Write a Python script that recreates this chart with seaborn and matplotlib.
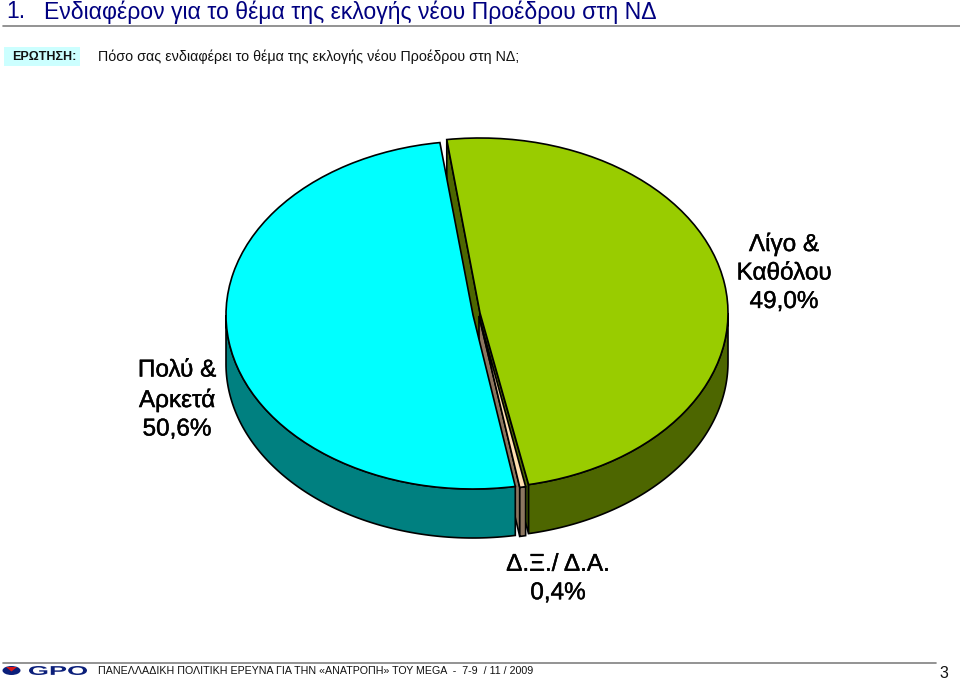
import numpy as np
import matplotlib
matplotlib.use('Agg')
import matplotlib.pyplot as plt
import matplotlib.patheffects as pe
from matplotlib.patches import Ellipse, PathPatch
from matplotlib.textpath import TextPath
from matplotlib.font_manager import FontProperties
from matplotlib.transforms import Affine2D
import seaborn as sns

# survey results, percent
slice_names = ['Λίγο &\nΚαθόλου', 'Πολύ &\nΑρκετά', 'Δ.Ξ./ Δ.Α.']
slice_values = [49.0, 50.6, 0.4]
slice_colors = ['#99CC00', '#00FFFF', '#FFDFB0']
side_colors = ['#4D6600', '#008080', '#8C7660']

title_text = 'Ενδιαφέρον για το θέμα της εκλογής νέου Προέδρου στη ΝΔ'
question_text = 'Πόσο σας ενδιαφέρει το θέμα της εκλογής νέου Προέδρου στη ΝΔ;'
footer_text = 'ΠΑΝΕΛΛΑΔΙΚΗ ΠΟΛΙΤΙΚΗ ΕΡΕΥΝΑ ΓΙΑ ΤΗΝ «ΑΝΑΤΡΟΠΗ» ΤΟΥ MEGA  -  7-9  / 11 / 2009'

sns.set_theme(style='white')
plt.rcParams['font.family'] = ['Liberation Sans', 'DejaVu Sans']

NAVY = '#000080'
DEPTH = 49
START_ANGLE = -78.7
# slice centre and radii in pixels, the exploded 3D look
geometry = [(480, 313, 248, 175), (473, 315, 247, 174), (479, 316, 238, 174)]


def rim(theta, cx, cy, rx, ry):
    t = np.radians(theta)
    return cx + rx * np.cos(t), cy - ry * np.sin(t)


def draw_side(ax, t1, t2, geo, color, z):
    # outer wall of a slice between two angles
    th = np.linspace(t1, t2, 120)
    x, y = rim(th, *geo)
    xs = np.concatenate([x, x[::-1]])
    ys = np.concatenate([y, y[::-1] + DEPTH])
    ax.fill(xs, ys, facecolor=color, edgecolor='black', lw=1.2, zorder=z)


def draw_cut(ax, theta, geo, color, z):
    # flat cut face from the apex to the rim
    cx, cy = geo[:2]
    x, y = rim(theta, *geo)
    ax.fill([cx, x, x, cx], [cy, y, y + DEPTH, cy + DEPTH], facecolor=color,
            edgecolor='black', lw=1.2, zorder=z)


fig = plt.figure(figsize=(9.6, 6.79), dpi=100)
ax = fig.add_axes([0, 0, 1, 1])

wedges, _ = ax.pie(slice_values, startangle=START_ANGLE, colors=slice_colors, radius=1,
                   wedgeprops={'edgecolor': 'black', 'linewidth': 1.2})
ax.set_aspect('auto')
ax.set_xlim(0, 960)
ax.set_ylim(679, 0)
ax.axis('off')

for w, geo in zip(wedges, geometry):
    cx, cy, rx, ry = geo
    w.set_transform(Affine2D().scale(rx, -ry).translate(cx, cy) + ax.transData)

green, blue, dk = wedges

# green slice at the back, then the small one, blue on top
draw_cut(ax, green.theta2, geometry[0], side_colors[0], 1)
draw_cut(ax, green.theta1, geometry[0], side_colors[0], 1)
draw_side(ax, green.theta1, 0, geometry[0], side_colors[0], 1.5)
green.set_zorder(2)

draw_cut(ax, dk.theta1, geometry[2], side_colors[2], 3)
draw_side(ax, dk.theta1, dk.theta2, geometry[2], side_colors[2], 3.5)
dk.set_zorder(4)

draw_side(ax, 180, blue.theta2, geometry[1], side_colors[1], 5)
blue.set_zorder(6)

# value labels
fmt = lambda v: f'{v:.1f}%'.replace('.', ',')
heavy = [pe.withStroke(linewidth=0.3, foreground='black')]
label_spots = [(784, 273), (177, 400), (558, 579)]
for name, val, (lx, ly) in zip(slice_names, slice_values, label_spots):
    ax.text(lx, ly, f'{name}\n{fmt(val)}', ha='center', va='center', fontsize=17.5,
            linespacing=1.38, color='black', zorder=10, path_effects=heavy)

# header
ax.text(6, 12, '1.', fontsize=16.6, color=NAVY, va='center', ha='left')
ax.text(44, 12, title_text, fontsize=16.6, color=NAVY, va='center', ha='left')
ax.plot([3, 960], [26, 26], color='#808080', lw=1.2)
ax.fill([4, 80, 80, 4], [47, 47, 66, 66], color='#CCFFFF', lw=0)
ax.text(44, 57, 'ΕΡΩΤΗΣΗ:', fontsize=9, fontweight='bold', color='#111111', va='center', ha='center')
ax.text(98, 57, question_text, fontsize=10.3, color='#111111', va='center', ha='left')

# footer
ax.plot([3, 936], [663, 663], color='#808080', lw=1.2)
ax.text(98, 671, footer_text, fontsize=7.7, color='#111111', va='center', ha='left')
ax.text(944, 673, '3', fontsize=11.5, color='#111111', va='center', ha='center')

# logo
ax.add_patch(Ellipse((11.5, 670.5), 18, 9, color='#0B1F7A', lw=0))
ax.fill([6, 17, 11.5], [667, 667, 671.5], color='#D81818', lw=0)
logo = TextPath((0, 0), 'GPO', size=10, prop=FontProperties(family='Liberation Sans', weight='bold'))
bb = logo.get_extents()
ax.add_patch(PathPatch(logo, color='#0B1F7A', lw=0,
                       transform=Affine2D().translate(-bb.x0, -bb.y0).scale(58 / bb.width, -9 / bb.height)
                       .translate(29, 675) + ax.transData))

fig.savefig('out.png', dpi=100)
plt.close(fig)
